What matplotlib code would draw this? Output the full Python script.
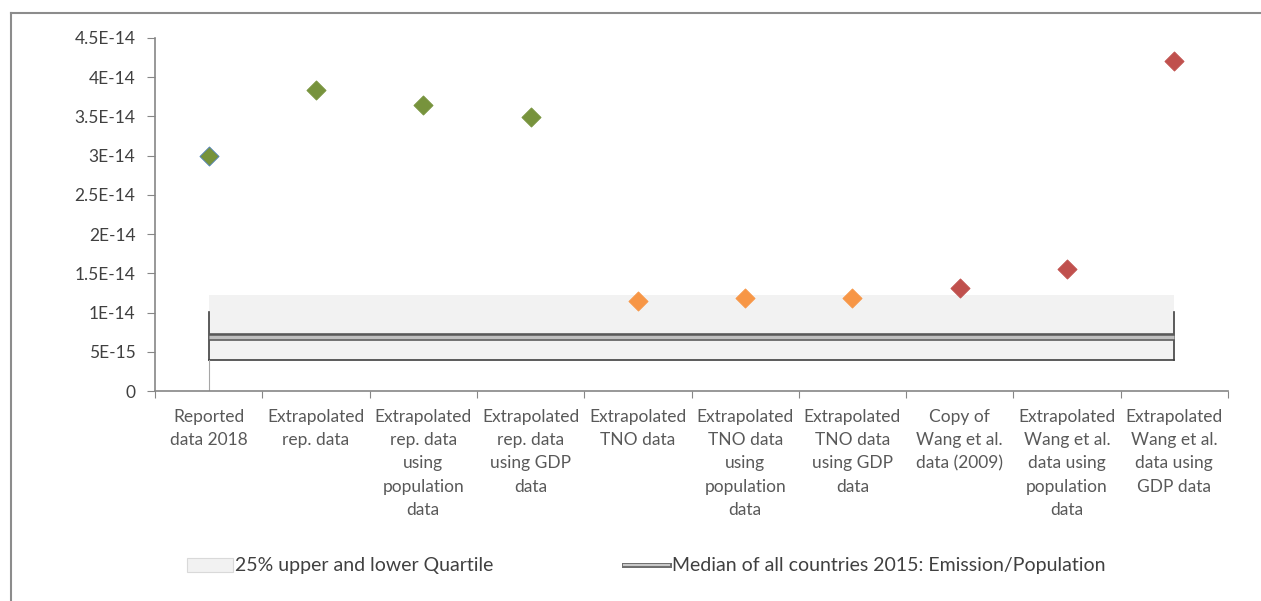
import matplotlib
matplotlib.use("Agg")
import matplotlib.pyplot as plt
from matplotlib.patches import Patch
from matplotlib.lines import Line2D
from matplotlib.legend_handler import HandlerTuple

plt.rcParams['font.family'] = ['Lato', 'DejaVu Sans']

categories = [
    "Reported\ndata 2018",
    "Extrapolated\nrep. data",
    "Extrapolated\nrep. data\nusing\npopulation\ndata",
    "Extrapolated\nrep. data\nusing GDP\ndata",
    "Extrapolated\nTNO data",
    "Extrapolated\nTNO data\nusing\npopulation\ndata",
    "Extrapolated\nTNO data\nusing GDP\ndata",
    "Copy of\nWang et al.\ndata (2009)",
    "Extrapolated\nWang et al.\ndata using\npopulation\ndata",
    "Extrapolated\nWang et al.\ndata using\nGDP data",
]
values = [3.00e-14, 3.84e-14, 3.65e-14, 3.49e-14, 1.15e-14, 1.18e-14, 1.18e-14,
          1.31e-14, 1.56e-14, 4.21e-14]
colors = ["#77933c"] * 4 + ["#f79646"] * 3 + ["#c0504d"] * 3
edge_colors = ["#4f81bd"] + colors[1:]

quartile_low = 4.0e-15
quartile_high = 1.22e-14
quartile_box_top = 1.01e-14
median = 6.9e-15

yticks = [0, 5e-15, 1e-14, 1.5e-14, 2e-14, 2.5e-14, 3e-14, 3.5e-14, 4e-14, 4.5e-14]
ytick_labels = ["0", "5E-15", "1E-14", "1.5E-14", "2E-14", "2.5E-14", "3E-14",
                "3.5E-14", "4E-14", "4.5E-14"]

fig = plt.figure(figsize=(12.61, 6.01), dpi=100)
ax = fig.add_axes([155 / 1261, 1 - 391 / 601, (1228 - 155) / 1261, (391 - 38) / 601])

x = list(range(len(categories)))
first, last = x[0], x[-1]

# quartile band
ax.fill_between([first, last], quartile_low, quartile_high, color="#f2f2f2", lw=0, zorder=1)
ax.plot([first, first], [quartile_low, quartile_box_top], color="#404040", lw=1.2, zorder=2)
ax.plot([last, last], [quartile_low, quartile_box_top], color="#404040", lw=1.2, zorder=2)
ax.plot([first, last], [quartile_low, quartile_low], color="#404040", lw=1.2, zorder=2)
ax.plot([first, first], [0, quartile_low], color="#a6a6a6", lw=0.8, zorder=2)

# median double line
ax.plot([first, last], [median, median], color="#595959", lw=5.5, solid_capstyle="butt", zorder=3)
ax.plot([first, last], [median, median], color="#bfbfbf", lw=2.5, solid_capstyle="butt", zorder=4)

# points
for xi, v, c, ec in zip(x, values, colors, edge_colors):
    ax.scatter([xi], [v], marker="D", s=95, color=c, edgecolors=ec, linewidths=0.6, zorder=5)

ax.set_xlim(-0.5, len(categories) - 0.5)
ax.set_ylim(0, 4.5e-14)
ax.set_yticks(yticks)
ax.set_yticklabels(ytick_labels, fontsize=12.5, color="#404040")
ax.set_xticks([i - 0.5 for i in range(len(categories) + 1)])
ax.set_xticklabels([])
ax.set_xticks(x, minor=True)
ax.set_xticklabels(categories, minor=True, fontsize=12.5, color="#595959", linespacing=1.55)
ax.tick_params(axis="x", which="minor", length=0, pad=13)
ax.tick_params(axis="x", which="major", length=5, color="#868686", direction="out")
ax.tick_params(axis="y", length=6, color="#868686", direction="out", pad=8)
for s in ["top", "right"]:
    ax.spines[s].set_visible(False)
for s in ["left", "bottom"]:
    ax.spines[s].set_color("#868686")
    ax.spines[s].set_linewidth(1.2)

# legend
h1 = Patch(facecolor="#f2f2f2", edgecolor="#d9d9d9", lw=0.8)
h2a = Line2D([], [], color="#6e6e6e", lw=3.6)
h2b = Line2D([], [], color="#c8c8c8", lw=1.5)
leg = fig.legend([h1, (h2a, h2b)],
                 ["25% upper and lower Quartile", "Median of all countries 2015: Emission/Population"],
                 handler_map={tuple: HandlerTuple(ndivide=1, pad=0)},
                 loc="center left", bbox_to_anchor=(187 / 1261, 1 - 566 / 601), ncol=2,
                 frameon=False, fontsize=14, handlelength=2.35, handletextpad=0.12,
                 columnspacing=6.7, borderpad=0, borderaxespad=0, labelcolor="#404040")

# outer border (left and top)
fig.add_artist(Line2D([11 / 1261, 11 / 1261], [0, 1 - 13 / 601], transform=fig.transFigure,
                      color="#8c8c8c", lw=1.5))
fig.add_artist(Line2D([11 / 1261, 1.0], [1 - 13 / 601, 1 - 13 / 601],
                      transform=fig.transFigure, color="#8c8c8c", lw=1.5))

fig.savefig("out.png", dpi=100)
